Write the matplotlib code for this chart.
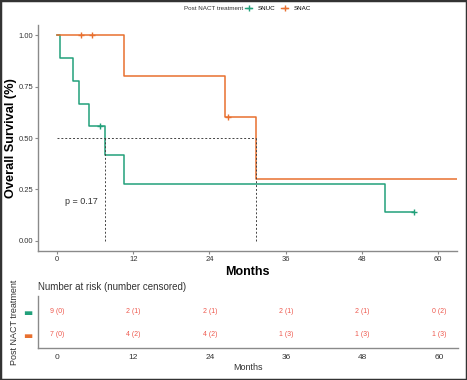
import matplotlib.pyplot as plt
from matplotlib.lines import Line2D
from matplotlib.patches import Rectangle

plt.rcParams['font.family'] = ['Liberation Sans', 'DejaVu Sans']

# Kaplan-Meier step data
snuc_time = [0, 0.4, 2.5, 3.5, 5.0, 7.5, 10.5, 51.7, 56.3]
snuc_surv = [1.0, 0.889, 0.778, 0.667, 0.556, 0.417, 0.278, 0.139, 0.139]
snuc_cens_time = [6.8, 56.3]
snuc_cens_surv = [0.556, 0.139]

snac_time = [0, 10.5, 26.4, 31.3, 63]
snac_surv = [1.0, 0.8, 0.6, 0.3, 0.3]
snac_cens_time = [3.85, 5.5, 26.9]
snac_cens_surv = [1.0, 1.0, 0.6]

medians = [7.5, 31.3]
p_text = "p = 0.17"

# risk table
risk_times = [0, 12, 24, 36, 48, 60]
snuc_risk = ["9 (0)", "2 (1)", "2 (1)", "2 (1)", "2 (1)", "0 (2)"]
snac_risk = ["7 (0)", "4 (2)", "4 (2)", "1 (3)", "1 (3)", "1 (3)"]

green = "#22A07A"
orange = "#E8702F"
risk_col = "#EE5A4F"
axis_col = "#8a8a8a"
text_col = "#333333"

fig = plt.figure(figsize=(4.67, 3.8), dpi=100)
fig.patches.append(Rectangle((0, 0), 1, 1, transform=fig.transFigure,
                             fill=False, edgecolor="#333333", linewidth=2.5))

# -------------------------------
# Survival curves
# -------------------------------
ax = fig.add_axes([38/467, 1-251/380, 419/467, 226/380])
ax.step(snuc_time, snuc_surv, where="post", color=green, lw=1.1)
ax.step(snac_time, snac_surv, where="post", color=orange, lw=1.1)
ax.plot(snuc_cens_time, snuc_cens_surv, "+", color=green, ms=4, mew=1)
ax.plot(snac_cens_time, snac_cens_surv, "+", color=orange, ms=4, mew=1)

ax.plot([0, max(medians)], [0.5, 0.5], ls=(0, (2, 2)), color="#444444", lw=0.7)
for m in medians:
    ax.plot([m, m], [0, 0.5], ls=(0, (2, 2)), color="#444444", lw=0.7)

ax.text(1.2, 0.19, p_text, fontsize=6.5, color=text_col, va="center")

ax.set_xlim(-3, 63)
ax.set_ylim(-0.05, 1.05)
ax.set_xticks(risk_times)
ax.set_yticks([0, 0.25, 0.5, 0.75, 1.0])
ax.set_yticklabels(["0.00", "0.25", "0.50", "0.75", "1.00"])
ax.set_xlabel("Months", fontsize=9, fontweight="bold", labelpad=2)
ax.set_ylabel("Overall Survival (%)", fontsize=9.2, fontweight="bold")
ax.yaxis.set_label_coords(-21/419, 0.5)
for s in ["top", "right"]:
    ax.spines[s].set_visible(False)
for s in ["left", "bottom"]:
    ax.spines[s].set_color(axis_col)
    ax.spines[s].set_linewidth(1.0)
ax.tick_params(labelsize=5.5, colors=axis_col, labelcolor=text_col, length=2.5, width=0.8, pad=1)

# legend on top
fig.text(184/467, 1-8/380, "Post NACT treatment", fontsize=4.5, color=text_col, va="center")
handles = [Line2D([], [], color=green, marker="+", lw=1, ms=4),
           Line2D([], [], color=orange, marker="+", lw=1, ms=4)]
fig.legend(handles, ["SNUC", "SNAC"], loc="center left", bbox_to_anchor=(245/467, 1-8/380),
           ncol=2, frameon=False, fontsize=4.5, handlelength=1.2, handletextpad=0.9,
           columnspacing=0.8, borderpad=0, borderaxespad=0)

# -------------------------------
# Risk table
# -------------------------------
rt = fig.add_axes([38/467, 1-348/380, 420/467, 52/380])
for t, a, b in zip(risk_times, snuc_risk, snac_risk):
    rt.text(t, 2, a, fontsize=5, color=risk_col, ha="center", va="center")
    rt.text(t, 1, b, fontsize=5, color=risk_col, ha="center", va="center")
rt.set_xlim(-3, 63)
rt.set_ylim(0.43, 2.67)
rt.set_xticks(risk_times)
rt.set_yticks([1, 2])
rt.set_yticklabels(["\u25ac", "\u25ac"], family="DejaVu Sans", fontsize=7)
rt.get_yticklabels()[0].set_color(orange)
rt.get_yticklabels()[1].set_color(green)
rt.tick_params(axis="y", length=0, pad=4)
rt.tick_params(axis="x", labelsize=6, colors=text_col, length=0, pad=4.5)
for s in ["top", "right"]:
    rt.spines[s].set_visible(False)
for s in ["left", "bottom"]:
    rt.spines[s].set_color(axis_col)
    rt.spines[s].set_linewidth(1.0)
rt.set_xlabel("Months", fontsize=6.5, color=text_col, labelpad=1.5)
rt.set_ylabel("Post NACT treatment", fontsize=6.5, color=text_col, labelpad=3)
rt.set_title("Number at risk (number censored)", fontsize=7, color=text_col, loc="left", pad=4, x=0)

fig.savefig("out.png", dpi=100)
